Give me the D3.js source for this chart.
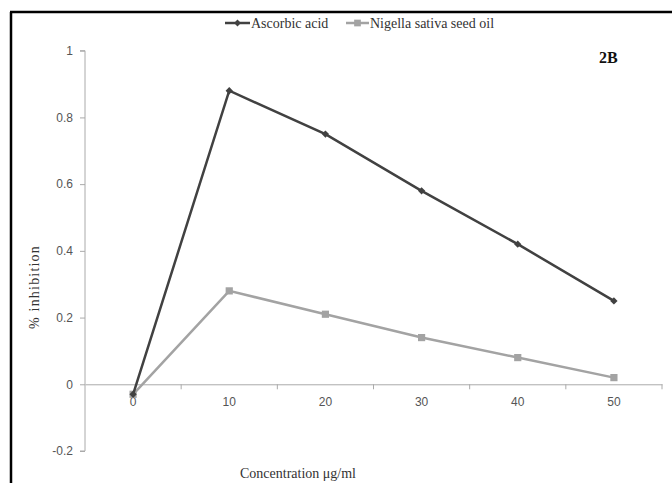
<!DOCTYPE html>
<html lang="en">
<head>
  <meta charset="utf-8">
  <title>% inhibition 2B</title>
  <script src="https://cdn.jsdelivr.net/npm/d3@7/dist/d3.min.js"></script>
  <style>
  body{ margin:0; background:#fff; }
  .tick text{ font-family:"Liberation Sans",Arial,sans-serif; font-size:12px; }
  .serif{ font-family:"Liberation Serif","Times New Roman",serif; fill:#333; }
  </style>
</head>
<body>
  <script>
  var width = 672;
  var height = 483;

  // data
  var categories = ["0", "10", "20", "30", "40", "50"];
  var ascorbic = [-0.03, 0.88, 0.75, 0.58, 0.42, 0.25];
  var nigella = [-0.03, 0.28, 0.21, 0.14, 0.08, 0.02];
  var yTicks = [-0.2, 0, 0.2, 0.4, 0.6, 0.8, 1];

  var svg = d3.select("body")
    .append("svg")
    .attr("width", width)
    .attr("height", height);

  // frame (top + left only visible)
  svg.append("line").attr("x1", 10).attr("x2", width).attr("y1", 12).attr("y2", 12)
    .attr("stroke", "#000").attr("stroke-width", 2.5);
  svg.append("line").attr("x1", 11).attr("x2", 11).attr("y1", 12).attr("y2", height)
    .attr("stroke", "#000").attr("stroke-width", 2.5);

  var x = d3.scaleBand()
    .domain(categories)
    .range([85, 662])
    .padding(0);

  var y = d3.scaleLinear()
    .domain([-0.2, 1])
    .range([451, 50.7]);

  // y axis
  var yAxis = svg.append("g")
    .attr("transform", "translate(" + x.range()[0] + ",0)")
    .call(d3.axisLeft(y).tickValues(yTicks).tickSize(5).tickPadding(7)
      .tickFormat(function(d){ return String(+d.toFixed(1)); }));
  yAxis.select(".domain").attr("stroke", "#aaa").attr("d", "M-5," + y(1) + "H0V" + y(-0.2) + "H-5");
  yAxis.selectAll(".tick line").attr("stroke", "#aaa");
  yAxis.selectAll(".tick text").attr("fill", "#555");

  // x axis at y = 0, ticks between categories
  var xAxis = svg.append("g")
    .attr("transform", "translate(0," + y(0) + ")")
    .call(d3.axisBottom(x).tickSize(0).tickPadding(13));
  xAxis.select(".domain").attr("stroke", "#aaa");
  xAxis.selectAll(".tick text").attr("fill", "#555");
  xAxis.selectAll(".sep")
    .data(categories)
    .enter()
    .append("line")
    .attr("class", "sep")
    .attr("x1", function(d){ return x(d) + x.bandwidth(); })
    .attr("x2", function(d){ return x(d) + x.bandwidth(); })
    .attr("y1", 0)
    .attr("y2", 5)
    .attr("stroke", "#aaa");

  var cx = function(d, i){ return x(categories[i]) + x.bandwidth() / 2; };
  var line = d3.line()
    .x(cx)
    .y(function(d){ return y(d); });

  // Nigella sativa seed oil
  svg.append("path")
    .datum(nigella)
    .attr("fill", "none")
    .attr("stroke", "#a3a3a3")
    .attr("stroke-width", 2.5)
    .attr("d", line);
  svg.selectAll(".sq")
    .data(nigella)
    .enter()
    .append("path")
    .attr("class", "sq")
    .attr("d", d3.symbol().type(d3.symbolSquare).size(52))
    .attr("fill", "#a3a3a3")
    .attr("transform", function(d, i){ return "translate(" + cx(d, i) + "," + y(d) + ")"; });

  // Ascorbic acid
  svg.append("path")
    .datum(ascorbic)
    .attr("fill", "none")
    .attr("stroke", "#414141")
    .attr("stroke-width", 2.5)
    .attr("d", line);
  svg.selectAll(".dm")
    .data(ascorbic)
    .enter()
    .append("path")
    .attr("class", "dm")
    .attr("d", d3.symbol().type(d3.symbolDiamond2).size(34))
    .attr("fill", "#414141")
    .attr("transform", function(d, i){ return "translate(" + cx(d, i) + "," + y(d) + ")"; });

  // legend
  var legend = svg.append("g");
  legend.append("line").attr("x1", 225).attr("x2", 250).attr("y1", 23).attr("y2", 23)
    .attr("stroke", "#414141").attr("stroke-width", 2.5);
  legend.append("path").attr("d", d3.symbol().type(d3.symbolDiamond2).size(30))
    .attr("fill", "#414141").attr("transform", "translate(237.5,23)");
  legend.append("text").attr("class", "serif").attr("x", 251).attr("y", 27.5)
    .style("font-size", "14px").text("Ascorbic acid");

  legend.append("line").attr("x1", 346).attr("x2", 369).attr("y1", 23).attr("y2", 23)
    .attr("stroke", "#a3a3a3").attr("stroke-width", 2.5);
  legend.append("path").attr("d", d3.symbol().type(d3.symbolSquare).size(45))
    .attr("fill", "#a3a3a3").attr("transform", "translate(357.5,23)");
  legend.append("text").attr("class", "serif").attr("x", 370).attr("y", 27.5)
    .style("font-size", "14px").text("Nigella sativa seed oil");

  // panel label
  svg.append("text").attr("class", "serif").attr("x", 599).attr("y", 63)
    .style("font-size", "16px").style("font-weight", "bold").style("fill", "#111")
    .text("2B");

  // axis titles
  svg.append("text").attr("class", "serif")
    .attr("transform", "translate(39,287) rotate(-90)")
    .attr("text-anchor", "middle")
    .style("font-size", "14px")
    .style("letter-spacing", "1.2px")
    .text("% inhibition");

  svg.append("text").attr("class", "serif")
    .attr("x", 298).attr("y", 478)
    .attr("text-anchor", "middle")
    .style("font-size", "14px")
    .text("Concentration μg/ml");
  </script>
</body>
</html>
